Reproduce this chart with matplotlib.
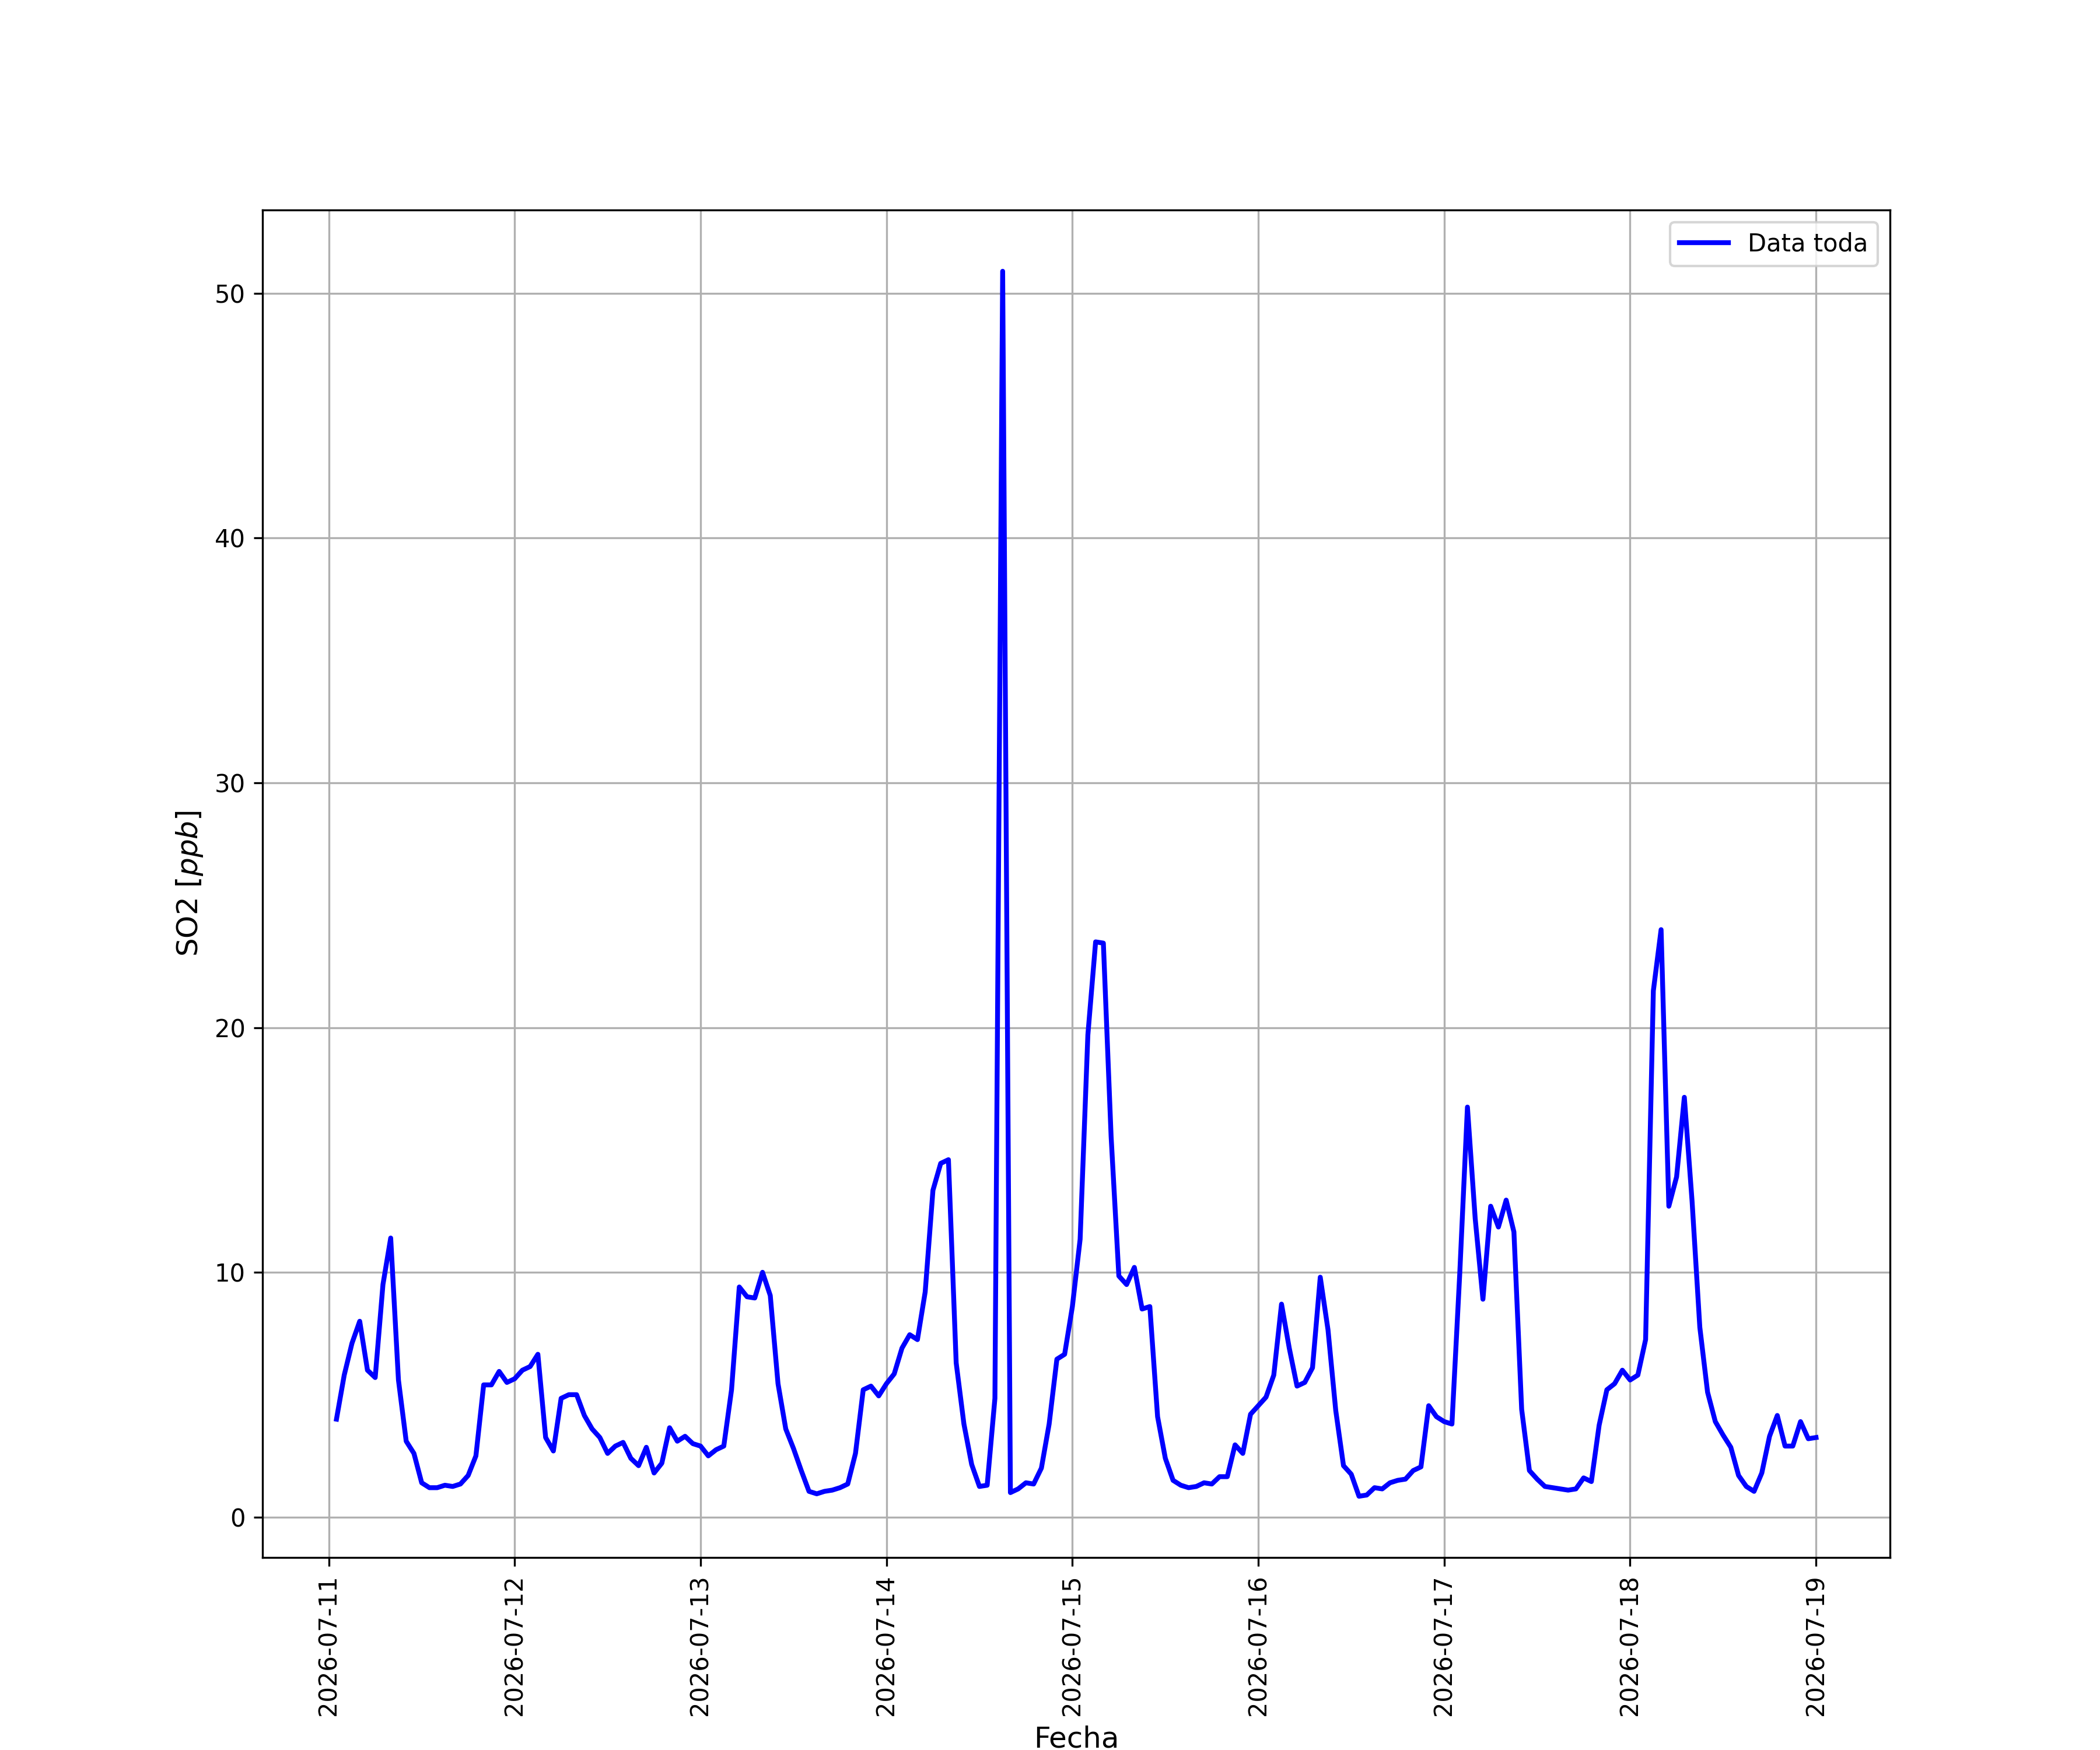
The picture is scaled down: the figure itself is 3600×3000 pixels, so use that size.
import numpy as np
import pandas as pd
import matplotlib
matplotlib.use("Agg")
import matplotlib.pyplot as plt

start_time = "2026-07-11 01:00"
n_hours = 192

so2_values = [
    4.0, 5.8, 7.1, 8.0, 6.0, 5.7, 9.5, 11.4, 5.6, 3.1, 2.6, 1.4,
    1.2, 1.2, 1.3, 1.25, 1.35, 1.7, 2.5, 5.4, 5.4, 5.95, 5.5, 5.65,
    6.0, 6.15, 6.65, 3.25, 2.7, 4.85, 5.0, 5.0, 4.15, 3.6, 3.25, 2.6,
    2.9, 3.05, 2.4, 2.1, 2.85, 1.8, 2.2, 3.65, 3.1, 3.3, 3.0, 2.9,
    2.5, 2.75, 2.9, 5.2, 9.4, 9.0, 8.95, 10.0, 9.05, 5.45, 3.6, 2.8,
    1.9, 1.05, 0.95, 1.05, 1.1, 1.2, 1.35, 2.6, 5.2, 5.35, 4.95, 5.45,
    5.85, 6.9, 7.45, 7.25, 9.2, 13.35, 14.45, 14.6, 6.3, 3.8, 2.15, 1.25,
    1.3, 4.85, 50.9, 1.0, 1.15, 1.4, 1.35, 2.0, 3.8, 6.45, 6.65, 8.6,
    11.35, 19.7, 23.5, 23.45, 15.55, 9.85, 9.5, 10.2, 8.5, 8.6, 4.1, 2.4,
    1.5, 1.3, 1.2, 1.25, 1.4, 1.35, 1.65, 1.65, 2.95, 2.6, 4.2, 4.55,
    4.9, 5.8, 8.7, 6.9, 5.35, 5.5, 6.1, 9.8, 7.65, 4.35, 2.1, 1.75,
    0.85, 0.9, 1.2, 1.15, 1.4, 1.5, 1.55, 1.9, 2.05, 4.55, 4.1, 3.9,
    3.8, 9.9, 16.75, 12.2, 8.9, 12.7, 11.85, 12.95, 11.65, 4.4, 1.9, 1.55,
    1.25, 1.2, 1.15, 1.1, 1.15, 1.6, 1.45, 3.75, 5.2, 5.45, 6.0, 5.6,
    5.8, 7.25, 21.5, 24.0, 12.7, 13.9, 17.15, 12.9, 7.75, 5.1, 3.9, 3.35,
    2.85, 1.7, 1.25, 1.05, 1.8, 3.3, 4.15, 2.9, 2.9, 3.9, 3.2, 3.25,
]

times = pd.date_range(start=start_time, periods=n_hours, freq="h")

fig, ax = plt.subplots(figsize=(12, 10), dpi=300)
ax.plot(times, so2_values, color="blue", linewidth=2, label="Data toda")
ax.grid(True)
ax.set_xlabel("Fecha", fontsize=12)
ax.set_ylabel("SO2 [$ppb$]", fontsize=12)
ax.legend(loc="upper right")
plt.setp(ax.get_xticklabels(), rotation=90)
fig.savefig("out.png", dpi=300)
